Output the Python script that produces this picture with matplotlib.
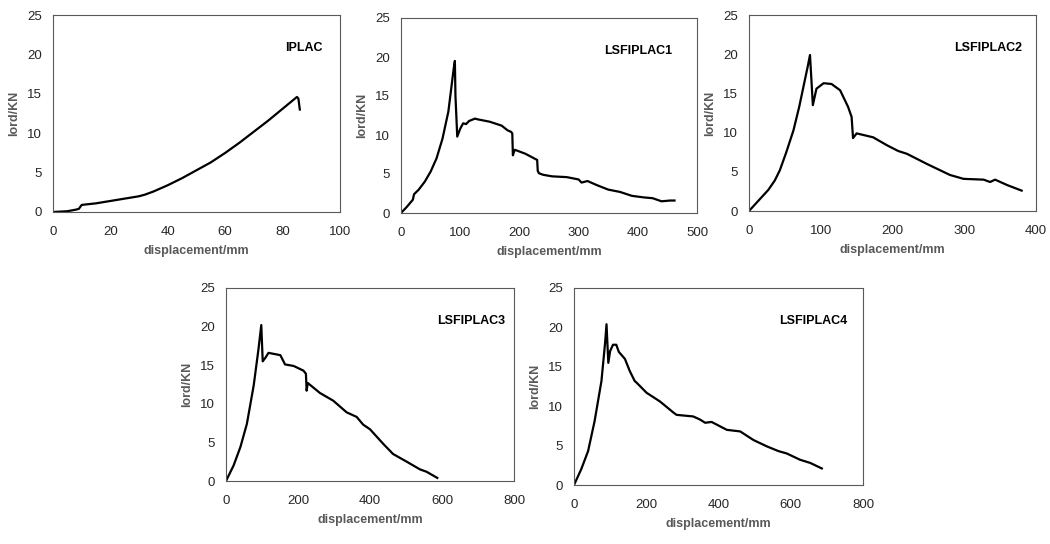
import numpy as np
import matplotlib
matplotlib.use('Agg')
import matplotlib.pyplot as plt

plt.rcParams['font.family'] = ['Liberation Sans', 'DejaVu Sans']

# dane (deplasare mm, sarcina kN)
iplac_x = [0, 5, 8, 9, 10, 15, 20, 25, 30, 32, 35, 40, 45, 50, 55, 60, 65, 70, 75, 80, 84, 85, 85.5, 86]
iplac_y = [0, 0.1, 0.3, 0.4, 0.9, 1.1, 1.4, 1.7, 2.0, 2.2, 2.6, 3.4, 4.3, 5.3, 6.3, 7.5, 8.8, 10.2, 11.6, 13.1, 14.3, 14.6, 14.4, 13.0]

l1_x = [0, 10, 20, 22, 30, 40, 50, 60, 70, 80, 89, 91, 92, 95, 100, 105, 110, 115, 125, 130, 150, 170,
        180, 186, 188, 189, 192, 196, 210, 220, 230, 231, 233, 240, 255, 280, 300, 305, 315, 330, 350,
        370, 390, 410, 425, 440, 455, 462]
l1_y = [0, 0.8, 1.7, 2.4, 3.0, 4.0, 5.3, 7.0, 9.5, 13.0, 18.5, 19.5, 15.0, 9.8, 10.8, 11.5, 11.4, 11.8,
        12.1, 12.0, 11.7, 11.2, 10.6, 10.4, 10.2, 7.4, 8.1, 8.0, 7.6, 7.2, 6.8, 5.4, 5.1, 4.9, 4.7, 4.6,
        4.3, 3.9, 4.1, 3.6, 3.0, 2.7, 2.2, 2.0, 1.9, 1.5, 1.6, 1.6]

l2_x = [0, 14, 27, 36, 43, 52, 62, 70, 76, 82, 85, 89, 94, 104, 115, 127, 138, 143, 145, 150, 173, 192,
        208, 220, 248, 280, 299, 327, 336, 343, 360, 380]
l2_y = [0, 1.4, 2.7, 3.9, 5.2, 7.5, 10.3, 13.3, 15.9, 18.5, 19.9, 13.5, 15.6, 16.3, 16.2, 15.4, 13.3,
        12.0, 9.3, 9.9, 9.4, 8.4, 7.65, 7.3, 6.0, 4.6, 4.1, 4.0, 3.7, 4.0, 3.3, 2.6]

l3_x = [0, 21, 40, 58, 77, 90, 98, 102, 110, 118, 151, 164, 188, 215, 222, 224, 227, 261, 298, 335,
        363, 381, 400, 437, 464, 502, 539, 557, 587]
l3_y = [0, 2.0, 4.4, 7.4, 12.4, 17.0, 20.2, 15.5, 16.0, 16.6, 16.3, 15.1, 14.9, 14.3, 13.9, 11.7, 12.7,
        11.4, 10.4, 8.9, 8.3, 7.3, 6.7, 4.8, 3.5, 2.5, 1.5, 1.2, 0.4]

l4_x = [0, 20, 39, 57, 76, 86, 90, 95, 100, 108, 117, 124, 141, 154, 168, 173, 201, 238, 275, 284, 330,
        349, 363, 381, 423, 460, 497, 534, 566, 589, 626, 654, 686]
l4_y = [0, 2.0, 4.3, 8.1, 13.2, 18.0, 20.4, 15.5, 17.0, 17.8, 17.8, 16.9, 16.0, 14.5, 13.2, 13.0, 11.7,
        10.6, 9.2, 8.9, 8.7, 8.3, 7.9, 8.0, 7.0, 6.8, 5.7, 4.9, 4.3, 4.0, 3.2, 2.8, 2.1]

names = ['IPLAC', 'LSFIPLAC1', 'LSFIPLAC2', 'LSFIPLAC3', 'LSFIPLAC4']
xs = [iplac_x, l1_x, l2_x, l3_x, l4_x]
ys = [iplac_y, l1_y, l2_y, l3_y, l4_y]
xmax = [100, 500, 400, 800, 800]
xstep = [20, 100, 100, 200, 200]

W, H = 1050, 544
# pozitii axe in pixeli: stanga, sus, dreapta, jos
boxes = [(53, 15, 340, 212), (401, 18, 697, 213), (749, 15, 1036, 211),
         (226, 288, 514, 481), (574, 288, 863, 485)]
title_x = [0.94, 0.915, 0.95, 0.97, 0.945]

fig = plt.figure(figsize=(W / 100, H / 100), dpi=100)
grey = '#595959'

for i in range(5):
    l, t, r, b = boxes[i]
    ax = fig.add_axes([l / W, 1 - b / H, (r - l) / W, (b - t) / H])
    ax.plot(xs[i], ys[i], color='black', lw=1.6)
    ax.set_xlim(0, xmax[i])
    ax.set_ylim(0, 25)
    ax.set_xticks(np.arange(0, xmax[i] + 1, xstep[i]))
    ax.set_yticks(np.arange(0, 26, 5))
    ax.tick_params(length=0, labelsize=9.5, colors='#262626')
    ax.tick_params(axis='x', pad=10)
    ax.tick_params(axis='y', pad=8)
    for s in ax.spines.values():
        s.set_color(grey)
        s.set_linewidth(0.8)
    ax.set_xlabel('displacement/mm', fontsize=9, fontweight='bold', color=grey, labelpad=5)
    ax.set_ylabel('lord/KN', fontsize=9, fontweight='bold', color=grey, labelpad=5)
    ax.text(title_x[i], 0.83, names[i], transform=ax.transAxes, ha='right', va='center',
            fontsize=9, fontweight='bold', color='black')

fig.savefig('out.png', dpi=100)
